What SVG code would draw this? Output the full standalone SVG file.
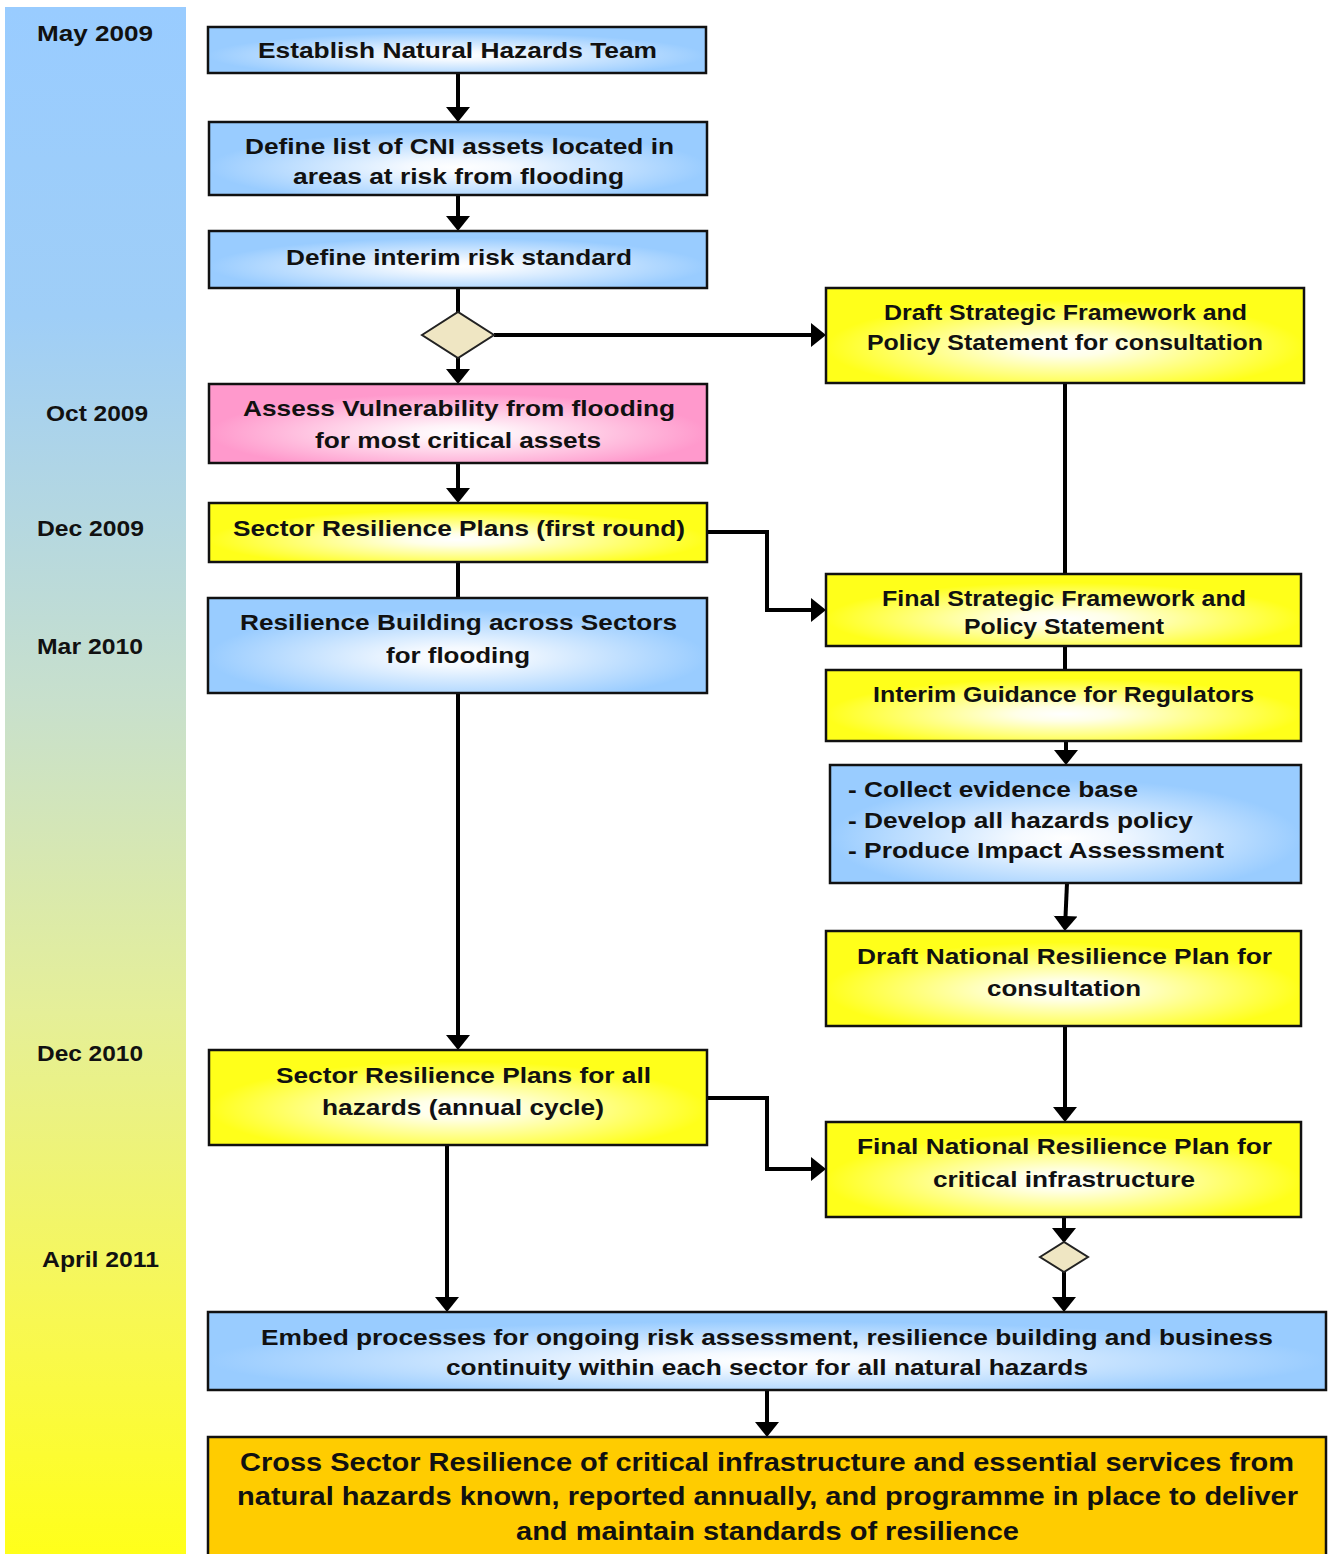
<svg xmlns="http://www.w3.org/2000/svg" width="1329" height="1554" viewBox="0 0 1329 1554">
<style>
.box{stroke:#111;stroke-width:2.5}
.t{font-family:"Liberation Sans",Arial,sans-serif;font-weight:bold;font-size:22px;fill:#111}
.tl{font-family:"Liberation Sans",Arial,sans-serif;font-weight:bold;font-size:22px;fill:#111}
.big{font-family:"Liberation Sans",Arial,sans-serif;font-weight:bold;font-size:26px;fill:#111}
.c{fill:none;stroke:#000;stroke-width:4}
.a{marker-end:url(#ah)}
.dia{fill:#EFE6C3;stroke:#222;stroke-width:2}
</style>
<defs>
<linearGradient id="bar" x1="0" y1="0" x2="0" y2="1">
<stop offset="0" stop-color="#99CCFF"/>
<stop offset="0.2" stop-color="#9FCEF7"/>
<stop offset="0.45" stop-color="#C8E0CC"/>
<stop offset="0.65" stop-color="#E5EF98"/>
<stop offset="0.85" stop-color="#F8F852"/>
<stop offset="1" stop-color="#FFFF1A"/>
</linearGradient>
<radialGradient id="gb" cx="0.5" cy="0.62" r="0.5" fx="0.5" fy="0.62">
<stop offset="0" stop-color="#FFFFFF"/>
<stop offset="0.2" stop-color="#F4F9FF"/>
<stop offset="1" stop-color="#99CCFF"/>
</radialGradient>
<radialGradient id="gy" cx="0.5" cy="0.62" r="0.5" fx="0.5" fy="0.62">
<stop offset="0" stop-color="#FFFFFF"/>
<stop offset="0.2" stop-color="#FFFFE8"/>
<stop offset="1" stop-color="#FFFF1A"/>
</radialGradient>
<radialGradient id="gp" cx="0.5" cy="0.62" r="0.5" fx="0.5" fy="0.62">
<stop offset="0" stop-color="#FFFFFF"/>
<stop offset="0.2" stop-color="#FFF2F8"/>
<stop offset="1" stop-color="#FF99CC"/>
</radialGradient>
<marker id="ah" markerUnits="userSpaceOnUse" markerWidth="16" markerHeight="26" viewBox="0 0 16 26" refX="12" refY="13" orient="auto">
<path d="M0,1 L15,13 L0,25 z" fill="#000"/>
</marker>
</defs>

<g id="timeline">
<rect x="5" y="7" width="181" height="1547" fill="url(#bar)"/>
<text class="tl" x="37" y="41" textLength="116" lengthAdjust="spacingAndGlyphs">May 2009</text>
<text class="tl" x="46" y="421" textLength="102" lengthAdjust="spacingAndGlyphs">Oct 2009</text>
<text class="tl" x="37" y="536" textLength="107" lengthAdjust="spacingAndGlyphs">Dec 2009</text>
<text class="tl" x="37" y="654" textLength="106" lengthAdjust="spacingAndGlyphs">Mar 2010</text>
<text class="tl" x="37" y="1061" textLength="106" lengthAdjust="spacingAndGlyphs">Dec 2010</text>
<text class="tl" x="42" y="1267" textLength="117" lengthAdjust="spacingAndGlyphs">April 2011</text>
</g>

<g id="connectors">
<path class="c a" d="M458,73 V119"/>
<path class="c a" d="M458,195 V228"/>
<path class="c" d="M458,288 V312"/>
<path class="c a" d="M458,358 V381"/>
<path class="c a" d="M494,335 H823"/>
<path class="c a" d="M458,463 V500"/>
<path class="c" d="M458,562 V598"/>
<path class="c a" d="M707,532 H767 V610 H823"/>
<path class="c" d="M1065,383 V574"/>
<path class="c a" d="M458,693 V1047"/>
<path class="c" d="M1065,646 V670"/>
<path class="c a" d="M1066,741 V762"/>
<path class="c a" d="M1067,883 L1065,928"/>
<path class="c a" d="M1065,1026 V1119"/>
<path class="c a" d="M707,1098 H767 V1169 H823"/>
<path class="c a" d="M1064,1217 V1240"/>
<path class="c a" d="M1064,1272 V1309"/>
<path class="c a" d="M447,1145 V1309"/>
<path class="c a" d="M767,1390 V1434"/>
</g>

<g id="n1">
<rect class="box" x="208" y="27" width="498" height="46" fill="url(#gb)"/>
<text class="t" x="258" y="58" textLength="399" lengthAdjust="spacingAndGlyphs">Establish Natural Hazards Team</text>
</g>
<g id="n2">
<rect class="box" x="209" y="122" width="498" height="73" fill="url(#gb)"/>
<text class="t" x="245" y="154" textLength="429" lengthAdjust="spacingAndGlyphs">Define list of CNI assets located in</text>
<text class="t" x="293" y="184" textLength="331" lengthAdjust="spacingAndGlyphs">areas at risk from flooding</text>
</g>
<g id="n3">
<rect class="box" x="209" y="231" width="498" height="57" fill="url(#gb)"/>
<text class="t" x="286" y="265" textLength="346" lengthAdjust="spacingAndGlyphs">Define interim risk standard</text>
</g>
<g id="d1">
<polygon class="dia" points="422,335 458,312 494,335 458,358"/>
</g>
<g id="n4">
<rect class="box" x="826" y="288" width="478" height="95" fill="url(#gy)"/>
<text class="t" x="884" y="320" textLength="363" lengthAdjust="spacingAndGlyphs">Draft Strategic Framework and</text>
<text class="t" x="867" y="350" textLength="396" lengthAdjust="spacingAndGlyphs">Policy Statement for consultation</text>
</g>
<g id="n5">
<rect class="box" x="209" y="384" width="498" height="79" fill="url(#gp)"/>
<text class="t" x="243" y="416" textLength="432" lengthAdjust="spacingAndGlyphs">Assess Vulnerability from flooding</text>
<text class="t" x="315" y="448" textLength="286" lengthAdjust="spacingAndGlyphs">for most critical assets</text>
</g>
<g id="n6">
<rect class="box" x="209" y="503" width="498" height="59" fill="url(#gy)"/>
<text class="t" x="233" y="536" textLength="452" lengthAdjust="spacingAndGlyphs">Sector Resilience Plans (first round)</text>
</g>
<g id="n7">
<rect class="box" x="208" y="598" width="499" height="95" fill="url(#gb)"/>
<text class="t" x="240" y="630" textLength="437" lengthAdjust="spacingAndGlyphs">Resilience Building across Sectors</text>
<text class="t" x="386" y="663" textLength="144" lengthAdjust="spacingAndGlyphs">for flooding</text>
</g>
<g id="n8">
<rect class="box" x="826" y="574" width="475" height="72" fill="url(#gy)"/>
<text class="t" x="882" y="606" textLength="364" lengthAdjust="spacingAndGlyphs">Final Strategic Framework and</text>
<text class="t" x="964" y="634" textLength="200" lengthAdjust="spacingAndGlyphs">Policy Statement</text>
</g>
<g id="n9">
<rect class="box" x="826" y="670" width="475" height="71" fill="url(#gy)"/>
<text class="t" x="873" y="702" textLength="381" lengthAdjust="spacingAndGlyphs">Interim Guidance for Regulators</text>
</g>
<g id="n10">
<rect class="box" x="830" y="765" width="471" height="118" fill="url(#gb)"/>
<text class="t" x="848" y="797" textLength="290" lengthAdjust="spacingAndGlyphs">- Collect evidence base</text>
<text class="t" x="848" y="828" textLength="345" lengthAdjust="spacingAndGlyphs">- Develop all hazards policy</text>
<text class="t" x="848" y="858" textLength="376" lengthAdjust="spacingAndGlyphs">- Produce Impact Assessment</text>
</g>
<g id="n11">
<rect class="box" x="826" y="931" width="475" height="95" fill="url(#gy)"/>
<text class="t" x="857" y="964" textLength="415" lengthAdjust="spacingAndGlyphs">Draft National Resilience Plan for</text>
<text class="t" x="987" y="996" textLength="154" lengthAdjust="spacingAndGlyphs">consultation</text>
</g>
<g id="n12">
<rect class="box" x="209" y="1050" width="498" height="95" fill="url(#gy)"/>
<text class="t" x="276" y="1083" textLength="375" lengthAdjust="spacingAndGlyphs">Sector Resilience Plans for all</text>
<text class="t" x="322" y="1115" textLength="282" lengthAdjust="spacingAndGlyphs">hazards (annual cycle)</text>
</g>
<g id="n13">
<rect class="box" x="826" y="1122" width="475" height="95" fill="url(#gy)"/>
<text class="t" x="857" y="1154" textLength="415" lengthAdjust="spacingAndGlyphs">Final National Resilience Plan for</text>
<text class="t" x="933" y="1187" textLength="262" lengthAdjust="spacingAndGlyphs">critical infrastructure</text>
</g>
<g id="d2">
<polygon class="dia" points="1040,1257 1064,1242 1088,1257 1064,1272"/>
</g>
<g id="n14">
<rect class="box" x="208" y="1312" width="1118" height="78" fill="url(#gb)"/>
<text class="t" x="261" y="1345" textLength="1012" lengthAdjust="spacingAndGlyphs">Embed processes for ongoing risk assessment, resilience building and business</text>
<text class="t" x="446" y="1375" textLength="642" lengthAdjust="spacingAndGlyphs">continuity within each sector for all natural hazards</text>
</g>
<g id="n15">
<rect class="box" x="208" y="1437" width="1118" height="125" fill="#FFCC00"/>
<text class="big" x="240" y="1471" textLength="1054" lengthAdjust="spacingAndGlyphs">Cross Sector Resilience of critical infrastructure and essential services from</text>
<text class="big" x="237" y="1505" textLength="1061" lengthAdjust="spacingAndGlyphs">natural hazards known, reported annually, and programme in place to deliver</text>
<text class="big" x="516" y="1540" textLength="503" lengthAdjust="spacingAndGlyphs">and maintain standards of resilience</text>
</g>
</svg>
